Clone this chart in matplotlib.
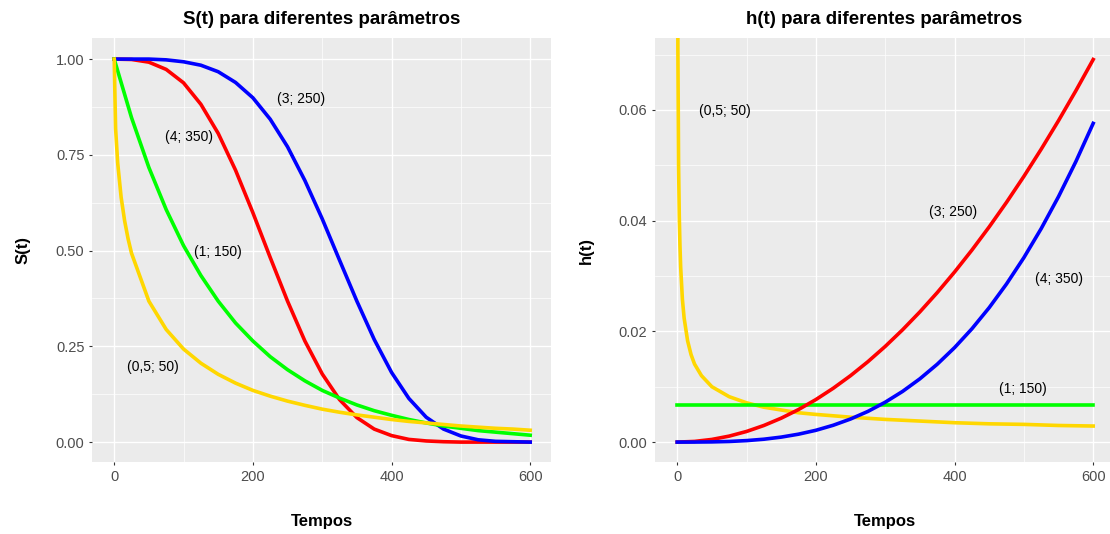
import matplotlib.pyplot as plt
from matplotlib.ticker import MultipleLocator

plt.rcParams["font.family"] = ["Liberation Sans", "DejaVu Sans"]

# tempos de leitura das curvas
tempos = [0, 25, 50, 75, 100, 125, 150, 175, 200, 225, 250, 275, 300,
          325, 350, 375, 400, 425, 450, 475, 500, 525, 550, 575, 600]
tempos_amarelo = [0, 2, 5, 10, 15, 20, 25, 50, 75, 100, 125, 150, 175, 200,
                  225, 250, 275, 300, 325, 350, 375, 400, 425, 450, 475, 500,
                  525, 550, 575, 600]
tempos_h_amarelo = [0.5, 1, 2, 3, 4, 5, 7.5, 10, 15, 20, 25, 35, 50, 75, 100,
                    125, 150, 175, 200, 250, 300, 350, 400, 450, 500, 550, 600]

# S(t)
s_azul = [1.000, 1.000, 1.000, 0.998, 0.993, 0.984, 0.967, 0.939, 0.899, 0.843,
          0.771, 0.683, 0.583, 0.475, 0.368, 0.268, 0.182, 0.114, 0.065, 0.034,
          0.016, 0.006, 0.002, 0.001, 0.000]
s_vermelho = [1.000, 0.999, 0.992, 0.973, 0.938, 0.882, 0.806, 0.710, 0.599,
              0.482, 0.368, 0.264, 0.178, 0.111, 0.064, 0.034, 0.017, 0.007,
              0.003, 0.001, 0.000, 0.000, 0.000, 0.000, 0.000]
s_verde = [1.000, 0.847, 0.717, 0.607, 0.513, 0.435, 0.368, 0.311, 0.264, 0.223,
           0.189, 0.160, 0.135, 0.115, 0.097, 0.082, 0.070, 0.059, 0.050, 0.042,
           0.036, 0.030, 0.026, 0.022, 0.018]
s_amarelo = [1.000, 0.819, 0.729, 0.639, 0.578, 0.531, 0.493, 0.368, 0.294,
             0.243, 0.206, 0.177, 0.154, 0.135, 0.120, 0.107, 0.096, 0.086,
             0.078, 0.071, 0.065, 0.059, 0.054, 0.050, 0.046, 0.042, 0.039,
             0.036, 0.034, 0.031]

# h(t)
h_vermelho = [0, 0.00012, 0.00048, 0.00108, 0.00192, 0.0030, 0.00432, 0.00588,
              0.00768, 0.00972, 0.0120, 0.01452, 0.01728, 0.02028, 0.02352,
              0.0270, 0.03072, 0.03468, 0.03888, 0.04332, 0.0480, 0.05292,
              0.05808, 0.06348, 0.06912]
h_azul = [0, 0.000004, 0.000033, 0.000112, 0.000267, 0.00052, 0.0009, 0.00143,
          0.00213, 0.00304, 0.00417, 0.00554, 0.0072, 0.00915, 0.01143, 0.01406,
          0.01706, 0.02046, 0.02429, 0.02857, 0.03332, 0.03857, 0.04435,
          0.05068, 0.05758]
h_verde = [0.00667, 0.00667, 0.00667, 0.00667, 0.00667, 0.00667, 0.00667,
           0.00667, 0.00667, 0.00667, 0.00667, 0.00667, 0.00667, 0.00667,
           0.00667, 0.00667, 0.00667, 0.00667, 0.00667, 0.00667, 0.00667,
           0.00667, 0.00667, 0.00667, 0.00667]
h_amarelo = [0.1, 0.0707, 0.0500, 0.0408, 0.0354, 0.0316, 0.0258, 0.0224,
             0.0183, 0.0158, 0.0141, 0.0120, 0.0100, 0.0082, 0.0071, 0.0063,
             0.0058, 0.0053, 0.0050, 0.0045, 0.0041, 0.0038, 0.0035, 0.0033,
             0.0032, 0.0030, 0.0029]

AZUL, VERMELHO, VERDE, AMARELO = "#0000FF", "#FF0000", "#00FF00", "#FFD700"
LW = 2.6


def estilo(ax, ymaj, ymin):
    ax.set_facecolor("#EBEBEB")
    for s in ax.spines.values():
        s.set_visible(False)
    ax.xaxis.set_major_locator(MultipleLocator(200))
    ax.xaxis.set_minor_locator(MultipleLocator(100))
    ax.yaxis.set_major_locator(MultipleLocator(ymaj))
    ax.yaxis.set_minor_locator(MultipleLocator(ymin))
    ax.grid(which="major", color="white", linewidth=1.0)
    ax.grid(which="minor", color="white", linewidth=0.5)
    ax.set_axisbelow(True)
    ax.tick_params(which="major", length=2.5, width=0.8, color="#333333",
                   labelcolor="#4D4D4D", labelsize=10.5, pad=3)
    ax.tick_params(which="minor", length=0)


fig = plt.figure(figsize=(11.1, 5.34), dpi=100)

# painel da sobrevivencia
ax1 = fig.add_axes([0.0829, 0.1348, 0.4135, 0.794])
estilo(ax1, 0.25, 0.125)
ax1.plot(tempos, s_vermelho, color=VERMELHO, lw=LW)
ax1.plot(tempos, s_azul, color=AZUL, lw=LW)
ax1.plot(tempos, s_verde, color=VERDE, lw=LW)
ax1.plot(tempos_amarelo, s_amarelo, color=AMARELO, lw=LW)
ax1.set_xlim(-32, 630)
ax1.set_ylim(-0.052, 1.055)
ax1.yaxis.set_major_formatter(lambda v, p: f"{v:.2f}")
ax1.text(270, 0.895, "(3; 250)", ha="center", va="center", fontsize=10)
ax1.text(108, 0.796, "(4; 350)", ha="center", va="center", fontsize=10)
ax1.text(149, 0.496, "(1; 150)", ha="center", va="center", fontsize=10)
ax1.text(56, 0.196, "(0,5; 50)", ha="center", va="center", fontsize=10)
ax1.set_title("S(t) para diferentes parâmetros", fontsize=13.5,
              fontweight="bold", pad=10)
ax1.set_xlabel("Tempos", fontsize=12, fontweight="bold", labelpad=22)
ax1.set_ylabel("S(t)", fontsize=12, fontweight="bold", labelpad=18)

# painel da funcao de risco
ax2 = fig.add_axes([0.5901, 0.1348, 0.4135, 0.794])
estilo(ax2, 0.02, 0.01)
ax2.plot(tempos_h_amarelo, h_amarelo, color=AMARELO, lw=LW)
ax2.plot(tempos, h_verde, color=VERDE, lw=LW)
ax2.plot(tempos, h_vermelho, color=VERMELHO, lw=LW)
ax2.plot(tempos, h_azul, color=AZUL, lw=LW)
ax2.set_xlim(-32, 630)
ax2.set_ylim(-0.0036, 0.0730)
ax2.yaxis.set_major_formatter(lambda v, p: f"{v:.2f}")
ax2.text(69, 0.0598, "(0,5; 50)", ha="center", va="center", fontsize=10)
ax2.text(398, 0.0416, "(3; 250)", ha="center", va="center", fontsize=10)
ax2.text(550, 0.0295, "(4; 350)", ha="center", va="center", fontsize=10)
ax2.text(499, 0.0096, "(1; 150)", ha="center", va="center", fontsize=10)
ax2.set_title("h(t) para diferentes parâmetros", fontsize=13.5,
              fontweight="bold", pad=10)
ax2.set_xlabel("Tempos", fontsize=12, fontweight="bold", labelpad=22)
ax2.set_ylabel("h(t)", fontsize=12, fontweight="bold", labelpad=18)

fig.savefig("out.png", dpi=100)
